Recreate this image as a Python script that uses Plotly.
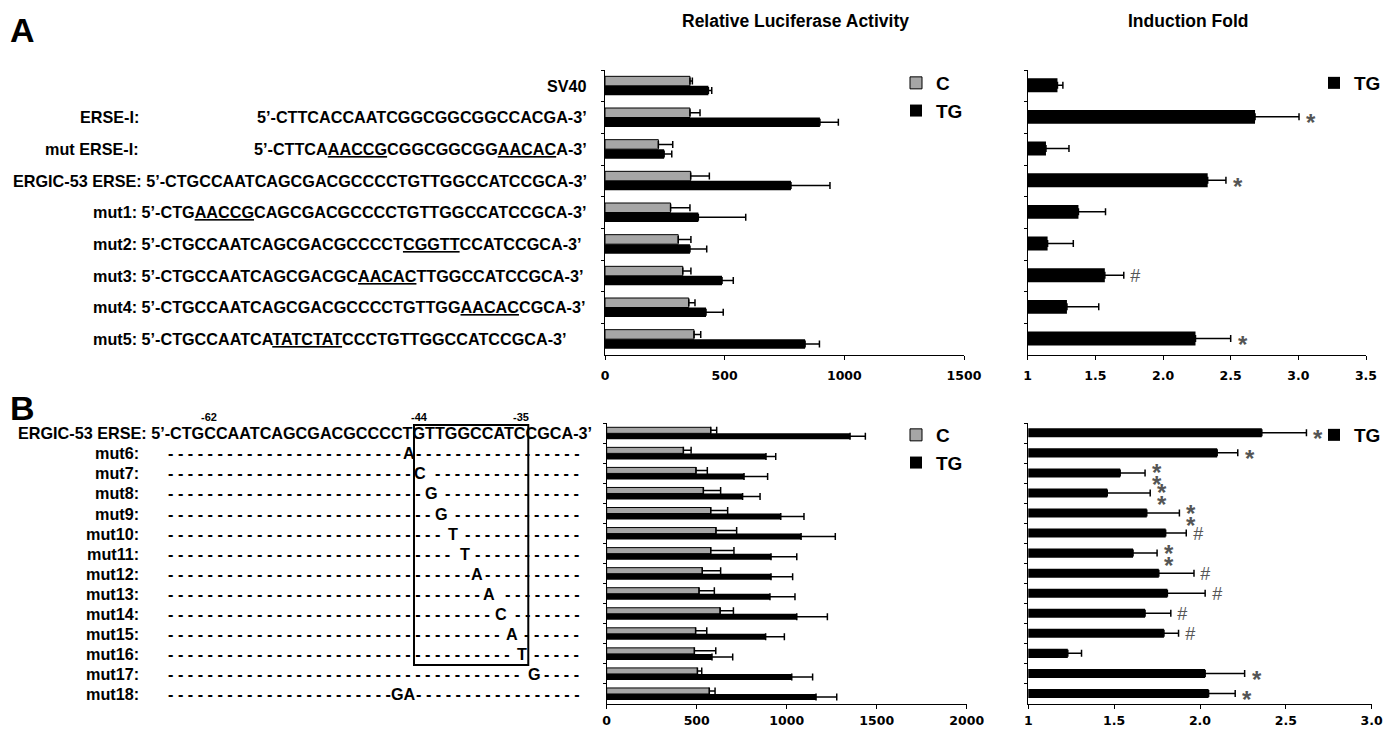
import math
import plotly.graph_objects as go

W, H = 1383, 730

# ---------------- data : panel A ----------------
a_categories = ["SV40", "ERSE-I", "mut ERSE-I", "ERGIC-53 ERSE", "mut1", "mut2", "mut3", "mut4", "mut5"]
a_labels = ["SV40", "ERSE-I:", "mut ERSE-I:", "ERGIC-53 ERSE:", "mut1:", "mut2:", "mut3:", "mut4:", "mut5:"]
a_sequences = ["", "CTTCACCAATCGGCGGCGGCCACGA", "CTTCA[AACCG]CGGCGGCGG[AACAC]A",
               "CTGCCAATCAGCGACGCCCCTGTTGGCCATCCGCA", "CTG[AACCG]CAGCGACGCCCCTGTTGGCCATCCGCA",
               "CTGCCAATCAGCGACGCCCCT[CGGTT]CCATCCGCA", "CTGCCAATCAGCGACGC[AACAC]TTGGCCATCCGCA",
               "CTGCCAATCAGCGACGCCCCTGTTGG[AACAC]CGCA", "CTGCCAATCA[TATCTAT]CCCTGTTGGCCATCCGCA"]
a_control = [355, 355, 223, 358, 274, 306, 325, 350, 372]
a_control_err = [10, 42, 60, 78, 81, 53, 34, 26, 28]
a_tg = [432, 898, 247, 777, 390, 355, 489, 422, 836]
a_tg_err = [14, 77, 32, 163, 198, 70, 47, 72, 60]
a_fold = [1.22, 2.68, 1.135, 2.33, 1.375, 1.147, 1.57, 1.29, 2.24]
a_fold_err = [0.04, 0.325, 0.17, 0.135, 0.2, 0.19, 0.14, 0.235, 0.26]
a_marks = ["", "*", "", "*", "", "", "#", "", "*"]

# ---------------- data : panel B ----------------
wt_sequence = "CTGCCAATCAGCGACGCCCCTGTTGGCCATCCGCA"
wt_first_position = -65
b_categories = ["ERGIC-53 ERSE", "mut6", "mut7", "mut8", "mut9", "mut10", "mut11", "mut12",
                "mut13", "mut14", "mut15", "mut16", "mut17", "mut18"]
b_mut_position = [None, -45, -44, -43, -42, -41, -40, -39, -38, -37, -36, -35, -34, -46]
b_mut_base = [None, "A", "C", "G", "G", "T", "T", "A", "A", "C", "A", "T", "G", "GA"]
b_control = [578, 426, 496, 537, 578, 607, 578, 531, 513, 630, 494, 487, 504, 570]
b_control_err = [33, 43, 63, 96, 94, 115, 129, 102, 85, 74, 62, 119, 24, 32]
b_tg = [1352, 885, 763, 755, 967, 1080, 913, 913, 907, 1056, 883, 585, 1028, 1163]
b_tg_err = [85, 54, 131, 97, 129, 190, 143, 120, 139, 170, 104, 115, 116, 115]
b_fold = [2.36, 2.10, 1.535, 1.46, 1.69, 1.80, 1.61, 1.76, 1.81, 1.68, 1.79, 1.23, 2.03, 2.05]
b_fold_err = [0.26, 0.12, 0.145, 0.25, 0.19, 0.12, 0.14, 0.205, 0.22, 0.15, 0.085, 0.08, 0.23, 0.155]
b_marks = ["*", "*", "**", "**", "**", "#", "**", "#", "#", "#", "#", "", "*", "*"]
marked_positions = [-62, -44, -35]
boxed_positions = [-44, -35]

a_ticks = [0, 500, 1000, 1500]
b_ticks = [0, 500, 1000, 1500, 2000]
a_fold_ticks = [1, 1.5, 2.0, 2.5, 3.0, 3.5]
a_fold_ticktext = ["1", "1.5", "2.0", "2.5", "3.0", "3.5"]
b_fold_ticks = [1, 1.5, 2.0, 2.5, 3.0]
b_fold_ticktext = ["1", "1.5", "2.0", "2.5", "3.0"]

# ---------------- helpers ----------------
def PX(x):
    return x / W


def PY(y):
    return 1 - y / H


FS = 16.2
SEQ_FONT = dict(family="Liberation Sans, Arial", size=FS, color="black", weight="bold")
ARIAL_BOLD = {"E": 667, "R": 722, "G": 778, "I": 278, "C": 722, "-": 333, "5": 556, "3": 556,
              " ": 278, "S": 667, ":": 333, "’": 278, "A": 722, "T": 611}


def tw(s):
    return sum(ARIAL_BOLD[c] for c in s) * FS / 1000.0


UL = '<span style="text-decoration:underline;text-decoration-thickness:2.5px;text-underline-offset:2px">'


def markup(seq):
    return "5’-" + seq.replace("[", UL).replace("]", "</span>") + "-3’"


GRAY = "#a6a6a6"
ERR = dict(type="data", symmetric=False, color="black", thickness=1.5, width=3.5)

fig = go.Figure()

# panel A, luciferase
fig.add_trace(go.Bar(y=a_categories, x=a_control, orientation="h", name="C", width=0.3, offset=-0.3,
                     marker=dict(color=GRAY, line=dict(color="black", width=1)),
                     error_x=dict(ERR, array=a_control_err, arrayminus=[0] * len(a_control)),
                     xaxis="x", yaxis="y", legend="legend"))
fig.add_trace(go.Bar(y=a_categories, x=a_tg, orientation="h", name="TG", width=0.3, offset=0.0,
                     marker=dict(color="black", line=dict(color="black", width=0)),
                     error_x=dict(ERR, array=a_tg_err, arrayminus=[0] * len(a_tg)),
                     xaxis="x", yaxis="y", legend="legend"))
# panel A, induction
fig.add_trace(go.Bar(y=a_categories, x=a_fold, orientation="h", name="TG", width=0.44, offset=-0.24,
                     marker=dict(color="black", line=dict(width=0)),
                     error_x=dict(ERR, array=a_fold_err, arrayminus=[0] * len(a_fold)),
                     xaxis="x2", yaxis="y2", legend="legend2"))
# panel B, luciferase
fig.add_trace(go.Bar(y=b_categories, x=b_control, orientation="h", name="C", width=0.3, offset=-0.3,
                     marker=dict(color=GRAY, line=dict(color="black", width=1)),
                     error_x=dict(ERR, array=b_control_err, arrayminus=[0] * len(b_control)),
                     xaxis="x3", yaxis="y3", legend="legend3"))
fig.add_trace(go.Bar(y=b_categories, x=b_tg, orientation="h", name="TG", width=0.3, offset=0.0,
                     marker=dict(color="black", line=dict(width=0)),
                     error_x=dict(ERR, array=b_tg_err, arrayminus=[0] * len(b_tg)),
                     xaxis="x3", yaxis="y3", legend="legend3"))
# panel B, induction
fig.add_trace(go.Bar(y=b_categories, x=b_fold, orientation="h", name="TG", width=0.45, offset=-0.25,
                     marker=dict(color="black", line=dict(width=0)),
                     error_x=dict(ERR, array=b_fold_err, arrayminus=[0] * len(b_fold)),
                     xaxis="x4", yaxis="y4", legend="legend4"))

TICKFONT = dict(family="DejaVu Sans", size=12.5, color="black", weight="bold")


def xax(domain, rng, tickvals, ticktext=None, anchor="y", standoff=5):
    d = dict(domain=[PX(domain[0]), PX(domain[1])], range=rng, anchor=anchor, tickvals=tickvals,
             showline=True, linecolor="black", linewidth=1, ticks="outside", ticklen=4,
             tickcolor="black", showgrid=False, zeroline=False, tickfont=TICKFONT, fixedrange=True,
             ticklabelstandoff=standoff, ticklabeloverflow="allow")
    if ticktext is not None:
        d["ticktext"] = ticktext
    return d


def yax(domain, cats, anchor):
    return dict(domain=[PY(domain[1]), PY(domain[0])], type="category", categoryorder="array",
                categoryarray=cats, range=[len(cats) - 0.5, -0.5], anchor=anchor,
                showline=True, linecolor="black", linewidth=1, ticks="outside", ticklen=3,
                tickson="boundaries", tickcolor="black", showticklabels=False, showgrid=False,
                zeroline=False, fixedrange=True)


A_TOP, A_BOT = 70, 355
B_TOP, B_BOT = 423.3, 704

annotations = []
shapes = []

TITLEFONT = dict(family="Liberation Sans, Arial", size=17.5, color="black", weight="bold")
# titles and panel letters
annotations.append(dict(x=PX(795), y=PY(21), xref="paper", yref="paper", xanchor="center", yanchor="middle",
                        text="Relative Luciferase Activity", showarrow=False, font=TITLEFONT))
annotations.append(dict(x=PX(1188), y=PY(21), xref="paper", yref="paper", xanchor="center", yanchor="middle",
                        text="Induction Fold", showarrow=False, font=TITLEFONT))
for letter, yy in (("A", 30), ("B", 408)):
    annotations.append(dict(x=PX(22), y=PY(yy), xref="paper", yref="paper", xanchor="center",
                            yanchor="middle", text=letter, showarrow=False,
                            font=dict(family="Liberation Sans, Arial", size=34, color="black", weight="bold")))

# panel A sequence rows
RIGHT_A = 587
for cat, lab, seq in zip(a_categories, a_labels, a_sequences):
    base = dict(yref="y", y=cat, xref="paper", yanchor="middle", showarrow=False, font=SEQ_FONT,
                borderpad=0, borderwidth=0)
    if seq == "":
        annotations.append(dict(base, x=PX(RIGHT_A), xanchor="right", text=lab))
    elif lab in ("ERSE-I:", "mut ERSE-I:"):
        annotations.append(dict(base, x=PX(139), xanchor="right", text=lab))
        annotations.append(dict(base, x=PX(RIGHT_A), xanchor="right", text=markup(seq)))
    elif lab.startswith("mut"):
        annotations.append(dict(base, x=PX(93), xanchor="left", text=lab + " " + markup(seq)))
    else:
        annotations.append(dict(base, x=PX(RIGHT_A), xanchor="right", text=lab + " " + markup(seq)))

# panel B sequence rows
B_LEFT = 18
prefix = "ERGIC-53 ERSE: 5’-"
seq_left = B_LEFT + tw(prefix)


def span(pos, n=1):
    i = pos - wt_first_position
    left = seq_left + tw(wt_sequence[:i])
    return left, left + tw(wt_sequence[i:i + n])


pitch = tw("- ")
dash_w = tw("-")
dash_left = seq_left - 2
n_dash = 42
for cat, pos, nb in zip(b_categories, b_mut_position, b_mut_base):
    base = dict(yref="y3", y=cat, xref="paper", yanchor="middle", showarrow=False, font=SEQ_FONT,
                borderpad=0, borderwidth=0)
    if pos is None:
        annotations.append(dict(base, x=PX(B_LEFT), xanchor="left", text=prefix + wt_sequence + "-3’"))
        continue
    annotations.append(dict(base, x=PX(139), xanchor="right", text=cat + ":"))
    l, r = span(pos, len(nb))
    annotations.append(dict(base, x=PX((l + r) / 2), xanchor="center", text=nb))
    k_left = int(math.floor((l - 1 - dash_w - dash_left) / pitch)) + 1
    if k_left > 0:
        annotations.append(dict(base, x=PX(dash_left), xanchor="left", text="- " * (k_left - 1) + "-"))
    k_start = int(math.ceil((r + 1 - dash_left) / pitch))
    if k_start < n_dash:
        annotations.append(dict(base, x=PX(dash_left + k_start * pitch), xanchor="left",
                                text="- " * (n_dash - 1 - k_start) + "-"))

for p in marked_positions:
    l, r = span(p)
    annotations.append(dict(x=PX((l + r) / 2 - 1), y=PY(417), xref="paper", yref="paper", xanchor="center",
                            yanchor="middle", text=str(p), showarrow=False,
                            font=dict(family="Liberation Sans, Arial", size=11, color="black", weight="bold")))
bl, _ = span(boxed_positions[0])
_, br = span(boxed_positions[1])
shapes.append(dict(type="rect", xref="paper", yref="paper", x0=PX(bl), x1=PX(br), y0=PY(665), y1=PY(425),
                   line=dict(color="black", width=2)))

# significance marks
STAR_SIZE = 24
MARKFONT_STAR = dict(family="Liberation Sans, Arial", size=STAR_SIZE, color="#555555", weight="bold")
MARKFONT_PAIR = dict(family="Liberation Sans, Arial", size=9, color="#555555", weight="bold")
MARKFONT_HASH = dict(family="Liberation Sans, Arial", size=18, color="#555555", style="italic")


def add_marks(cats, vals, errs, marks, xref, yref):
    for c, v, e, m in zip(cats, vals, errs, marks):
        if not m:
            continue
        base = dict(x=v + e, y=c, xref=xref, yref=yref, xanchor="center", yanchor="middle",
                    showarrow=False, xshift=12)
        if m == "#":
            annotations.append(dict(base, text="#", yshift=0, font=MARKFONT_HASH))
        elif m == "*":
            annotations.append(dict(base, text="*", yshift=-5.5, font=MARKFONT_STAR))
        else:
            star = '<span style="font-size:%dpx">*</span>' % STAR_SIZE
            annotations.append(dict(base, text="<br>".join([star] * len(m)), yshift=-5.5, font=MARKFONT_PAIR))


add_marks(a_categories, a_fold, a_fold_err, a_marks, "x2", "y2")
add_marks(b_categories, b_fold, b_fold_err, b_marks, "x4", "y4")

LEGFONT = dict(family="Liberation Sans, Arial", size=19, color="black", weight="bold")


def leg(x, y):
    return dict(x=PX(x), y=PY(y), xanchor="left", yanchor="top", bgcolor="rgba(0,0,0,0)", borderwidth=0,
                font=LEGFONT, itemwidth=30, traceorder="normal", tracegroupgap=0, itemclick=False,
                itemdoubleclick=False)


fig.update_layout(
    width=W, height=H, autosize=False,
    margin=dict(l=0, r=0, t=0, b=0, pad=0, autoexpand=False),
    paper_bgcolor="white", plot_bgcolor="white",
    barmode="overlay", showlegend=True,
    xaxis=xax((605, 964), [0, 1500], a_ticks, anchor="y", standoff=5),
    yaxis=yax((A_TOP, A_BOT), a_categories, "x"),
    xaxis2=xax((1027.7, 1366), [1, 3.5], a_fold_ticks, a_fold_ticktext, anchor="y2", standoff=5),
    yaxis2=yax((A_TOP, A_BOT), a_categories, "x2"),
    xaxis3=xax((606.7, 966.7), [0, 2000], b_ticks, anchor="y3", standoff=1),
    yaxis3=yax((B_TOP, B_BOT), b_categories, "x3"),
    xaxis4=xax((1028.3, 1371.7), [1, 3], b_fold_ticks, b_fold_ticktext, anchor="y4", standoff=1),
    yaxis4=yax((B_TOP, B_BOT), b_categories, "x4"),
    legend=leg(896, 64),
    legend2=leg(1314, 64),
    legend3=leg(896, 416),
    legend4=leg(1314, 416),
    annotations=annotations,
    shapes=shapes,
)

fig.write_html("out.html", include_plotlyjs=True, config={"displayModeBar": False},
               post_script="document.body.style.margin='0';document.body.style.overflow='hidden';")
